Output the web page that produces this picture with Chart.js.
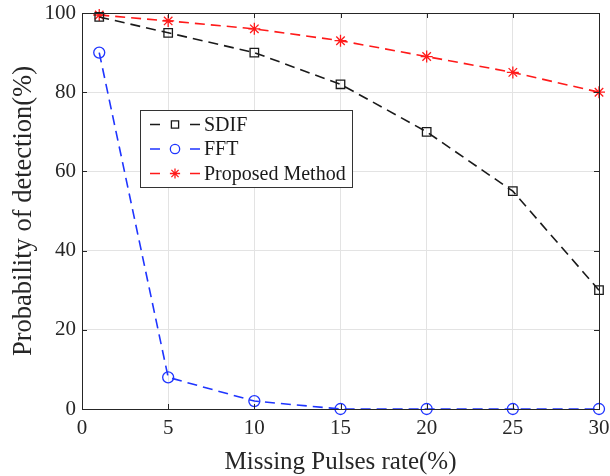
<!DOCTYPE html>
<html><head><meta charset="utf-8">
<script src="https://cdn.jsdelivr.net/npm/chart.js@4"></script>
<style>body{margin:0;background:#fff}canvas{display:block}</style>
</head><body>
<canvas id="c" width="610" height="476"></canvas>
<script>
const xValues = [1, 5, 10, 15, 20, 25, 30];
const sdif = [99, 95, 90, 82, 70, 55, 30];
const fft = [90, 8, 2, 0, 0, 0, 0];
const proposed = [99.5, 98, 96, 93, 89, 85, 80];
const seriesNames = ['SDIF', 'FFT', 'Proposed Method'];
const xTitle = 'Missing Pulses rate(%)';
const yTitle = 'Probability of detection(%)';

const FONT = "'Liberation Serif', 'Times New Roman', serif";
const colors = ['#1a1a1a', '#1f35ff', '#ff1a1a'];
const styles = ['rect', 'circle', 'star'];
const radii = [6, 5.5, 6];

function mk(vals) { return xValues.map((x, i) => ({x, y: vals[i]})); }
const datasets = [sdif, fft, proposed].map((v, i) => ({
  label: seriesNames[i], data: mk(v), borderColor: colors[i], backgroundColor: 'rgba(0,0,0,0)',
  borderWidth: 1.6, borderDash: [10, 6], pointStyle: styles[i], pointRadius: radii[i],
  pointBorderColor: colors[i], pointBackgroundColor: 'rgba(0,0,0,0)', pointBorderWidth: 1.3,
  clip: false, tension: 0
}));
const framePlugin = {
  id: 'frame',
  afterDatasetsDraw(chart) {
    const {ctx, chartArea: a, scales: {x, y}} = chart;
    ctx.save();
    ctx.strokeStyle = '#262626'; ctx.lineWidth = 1;
    ctx.strokeRect(Math.round(a.left) + 0.5, Math.round(a.top) + 0.5, Math.round(a.right - a.left), Math.round(a.bottom - a.top));
    ctx.beginPath();
    x.ticks.forEach(t => {
      const p = Math.round(x.getPixelForValue(t.value)) + 0.5;
      ctx.moveTo(p, a.bottom); ctx.lineTo(p, a.bottom - 5);
      ctx.moveTo(p, a.top); ctx.lineTo(p, a.top + 5);
    });
    y.ticks.forEach(t => {
      const p = Math.round(y.getPixelForValue(t.value)) + 0.5;
      ctx.moveTo(a.left, p); ctx.lineTo(a.left + 5, p);
      ctx.moveTo(a.right, p); ctx.lineTo(a.right - 5, p);
    });
    ctx.stroke();
    // legend
    const bx = 140.5, by = 110.5, bw = 212, bh = 77;
    ctx.fillStyle = '#fff'; ctx.fillRect(bx, by, bw, bh);
    ctx.strokeStyle = '#333'; ctx.strokeRect(bx, by, bw, bh);
    ctx.font = '20px ' + FONT; ctx.textBaseline = 'middle'; ctx.textAlign = 'left';
    chart.data.datasets.forEach((ds, i) => {
      const ly = 124.5 + i * 24.5;
      ctx.save();
      ctx.strokeStyle = ds.borderColor; ctx.lineWidth = 1.6; ctx.setLineDash([10, 30]);
      ctx.beginPath(); ctx.moveTo(150, ly); ctx.lineTo(200, ly); ctx.stroke();
      ctx.strokeStyle = ds.borderColor; ctx.fillStyle = 'rgba(0,0,0,0)'; ctx.lineWidth = 1.3; ctx.setLineDash([]);
      Chart.helpers.drawPoint(ctx, {pointStyle: ds.pointStyle, radius: ds.pointRadius * 0.85, borderWidth: 1.3}, 175, ly);
      ctx.restore();
      ctx.fillStyle = '#1a1a1a';
      ctx.fillText(ds.label, 204, ly + 1);
    });
    ctx.restore();
  }
};

new Chart(document.getElementById('c'), {
  type: 'line',
  data: {datasets},
  options: {
    responsive: false, animation: false,
    layout: {padding: {top: 13, right: 11, left: 0, bottom: 0}},
    plugins: {legend: {display: false}, tooltip: {enabled: false}},
    scales: {
      x: {
        type: 'linear', min: 0, max: 30,
        ticks: {stepSize: 5, color: '#262626', font: {family: FONT, size: 21}, padding: 7, maxRotation: 0},
        grid: {color: '#e3e3e3', drawTicks: false},
        border: {display: false},
        title: {display: true, text: xTitle, color: '#262626', font: {family: FONT, size: 25}, padding: {top: 0, bottom: -1}},
        afterFit(s) { s.height = 67; s.paddingLeft = 0; s.paddingRight = 0; }
      },
      y: {
        min: 0, max: 100,
        ticks: {stepSize: 20, color: '#262626', font: {family: FONT, size: 21}, padding: 6},
        grid: {color: '#e3e3e3', drawTicks: false},
        border: {display: false},
        title: {display: true, text: yTitle, color: '#262626', font: {family: FONT, size: 26.5}, padding: {top: 8, bottom: 0}},
        afterFit(s) { s.width = 82; s.paddingTop = 0; s.paddingBottom = 0; }
      }
    }
  },
  plugins: [framePlugin]
});
</script>
</body></html>
